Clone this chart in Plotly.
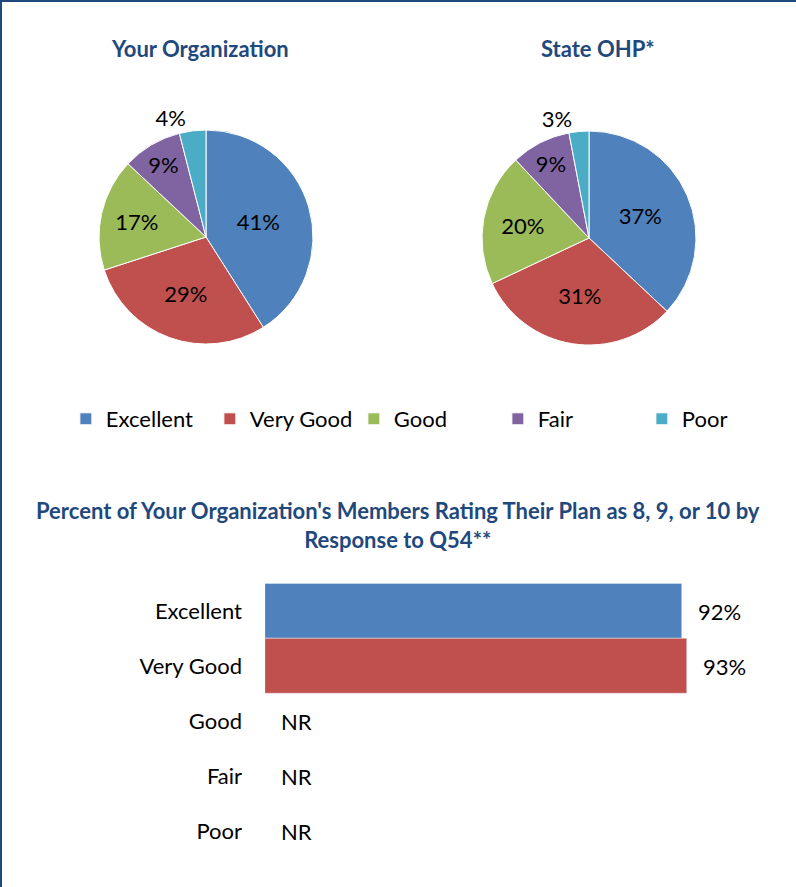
import plotly.graph_objects as go

# ratings data
ratings = ['Excellent', 'Very Good', 'Good', 'Fair', 'Poor']
colors = ['#4F81BD', '#C0504D', '#9BBB59', '#8064A2', '#4BACC6']

org_share = [41, 29, 17, 9, 4]
state_share = [37, 31, 20, 9, 3]

bar_values = [92, 93, None, None, None]
bar_labels = ['92%', '93%', 'NR', 'NR', 'NR']

FONT = 'Lato'
TITLE_BLUE = '#1F497D'
W, H = 796, 887

fig = go.Figure()

pie_positions = ['inside', 'inside', 'inside', 'inside', 'outside']

fig.add_trace(go.Pie(
    labels=ratings,
    values=org_share,
    texttemplate='%{value}%',
    textposition=pie_positions,
    insidetextorientation='horizontal',
    textfont=dict(family=FONT, size=22, color='black'),
    marker=dict(colors=colors, line=dict(color='white', width=1)),
    sort=False,
    direction='clockwise',
    rotation=0,
    hoverinfo='label+percent',
    domain=dict(x=[99 / W, 313 / W], y=[1 - 344 / H, 1 - 130 / H]),
))

fig.add_trace(go.Pie(
    labels=ratings,
    values=state_share,
    texttemplate='%{value}%',
    textposition=pie_positions,
    insidetextorientation='horizontal',
    textfont=dict(family=FONT, size=22, color='black'),
    marker=dict(colors=colors, line=dict(color='white', width=1)),
    sort=False,
    direction='clockwise',
    rotation=0,
    hoverinfo='label+percent',
    domain=dict(x=[482 / W, 696 / W], y=[1 - 345 / H, 1 - 131 / H]),
))

fig.add_trace(go.Bar(
    x=bar_values,
    y=ratings,
    orientation='h',
    marker=dict(color=colors[:2] + ['rgba(0,0,0,0)'] * 3),
    showlegend=False,
    hoverinfo='x+y',
    xaxis='x',
    yaxis='y',
))

annotations = [
    dict(text='<b>Your Organization</b>', x=200 / W, y=1 - 48 / H,
         xref='paper', yref='paper', showarrow=False,
         xanchor='center', yanchor='middle',
         font=dict(family=FONT, size=22, color=TITLE_BLUE)),
    dict(text='<b>State OHP*</b>', x=598 / W, y=1 - 48 / H,
         xref='paper', yref='paper', showarrow=False,
         xanchor='center', yanchor='middle',
         font=dict(family=FONT, size=22, color=TITLE_BLUE)),
    dict(text="<b>Percent of Your Organization's Members Rating Their Plan as 8, 9, or 10 by"
              "<br>Response to Q54**</b>",
         x=398 / W, y=1 - 525 / H, xref='paper', yref='paper',
         showarrow=False, align='center', xanchor='center', yanchor='middle',
         font=dict(family=FONT, size=22, color=TITLE_BLUE)),
]

# value labels next to the bars, NR where no result
for cat, val, lab in zip(ratings, bar_values, bar_labels):
    annotations.append(dict(
        text=lab, x=val if val is not None else 0, y=cat,
        xref='x', yref='y', xanchor='left', showarrow=False,
        xshift=14,
        font=dict(family=FONT, size=22, color='black'),
    ))

fig.update_layout(
    width=W,
    height=H,
    margin=dict(l=0, r=0, t=0, b=0),
    paper_bgcolor='white',
    plot_bgcolor='white',
    font=dict(family=FONT, size=22, color='black'),
    uniformtext=dict(minsize=22, mode='show'),
    bargap=0,
    xaxis=dict(domain=[265 / W, 0.9593], range=[0, 110], visible=False,
               fixedrange=True),
    yaxis=dict(domain=[1 - 858.5 / H, 1 - 583.5 / H], autorange='reversed',
               showline=False, showgrid=False, zeroline=False, ticks='',
               ticklabelstandoff=22, tickfont=dict(family=FONT, size=22),
               anchor='x', fixedrange=True),
    legend=dict(orientation='h', x=0.535, xanchor='center',
                y=1 - 419 / H, yanchor='middle',
                font=dict(family=FONT, size=22),
                entrywidth=99, traceorder='normal'),
    annotations=annotations,
    shapes=[
        dict(type='line', xref='paper', yref='paper', x0=0, x1=1, y0=1, y1=1,
             line=dict(color=TITLE_BLUE, width=4)),
        dict(type='line', xref='paper', yref='paper', x0=0, x1=0, y0=0, y1=1,
             line=dict(color=TITLE_BLUE, width=4)),
    ],
)

fig.write_html('out.html', config={'displayModeBar': False},
               post_script="document.body.style.margin = '0';")
